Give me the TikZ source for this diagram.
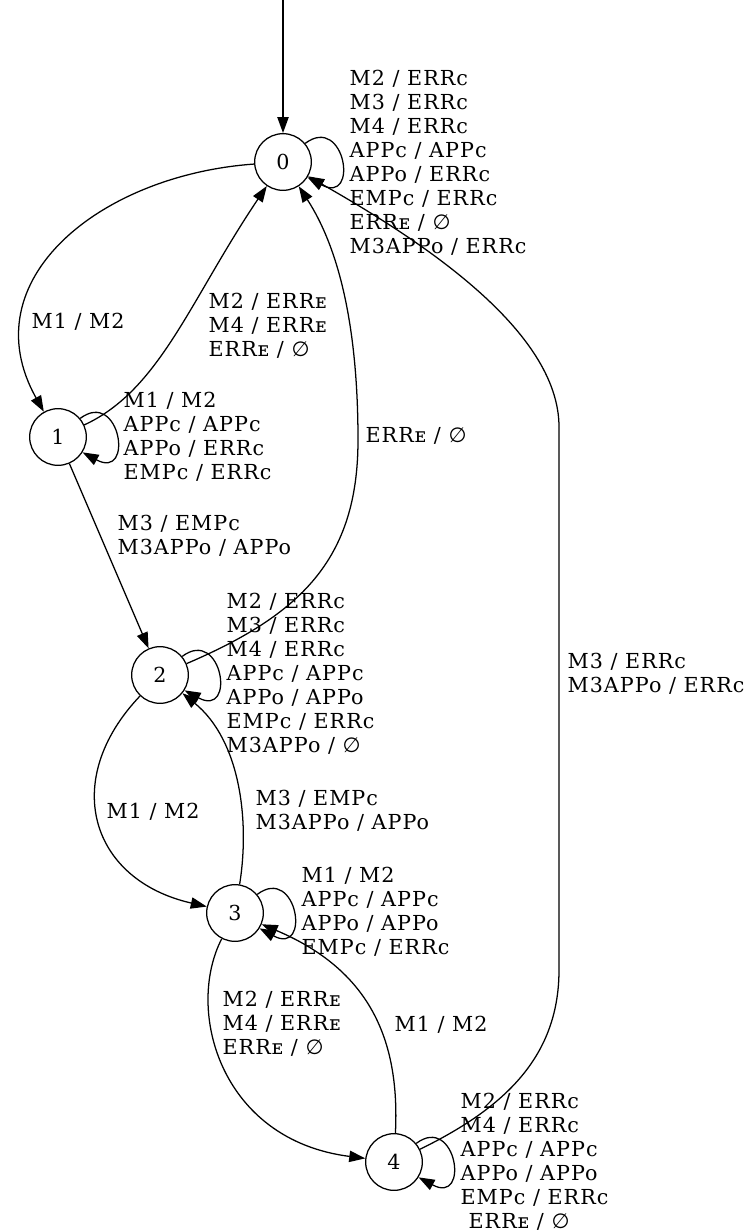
\documentclass[tikz,border=0pt]{standalone}
\usepackage{fontspec}
\setmainfont{DejaVu Serif}[LetterSpace=5]
\newfontfamily\symfont{DejaVu Sans}
\usepackage{tikz}
\usetikzlibrary{arrows.meta}
\newcommand{\nil}{{\symfont ∅}}
\newcommand{\Esc}{ᴇ}

\begin{document}
\begin{tikzpicture}[x=0.75pt, y=-0.75pt, >={Triangle[length=12pt, width=8.5pt]}, line width=0.95pt,
  state/.style={circle, draw, minimum size=42.5pt, inner sep=0pt, font=\fontsize{15.5}{18}\selectfont},
  lbl/.style={anchor=north west, align=left, inner sep=0pt, font=\fontsize{15.5}{18}\selectfont},
  selfloop/.style={to path={(\tikztostart.40) .. controls +(40,-30) and +(52,28) .. (\tikztostart.-32)}}]
            \useasboundingbox (0,0) rectangle (750,1232);

            \node[state] (n0) at (283,162) {0};
            \node[state] (n1) at (58,437) {1};
            \node[state] (n2) at (160,675) {2};
            \node[state] (n3) at (235,913) {3};
            \node[state] (n4) at (394,1162) {4};
            \coordinate (init) at (283,0);

            \node[lbl] (l00) at (349,70) {M2 / ERRc\\M3 / ERRc\\M4 / ERRc\\APPc / APPc\\APPo / ERRc\\EMPc / ERRc\\ERR\Esc{} / \nil\\M3APPo / ERRc};
            \node[lbl] (l01) at (31,313) {M1 / M2};
            \node[lbl] (l10) at (208,293) {M2 / ERR\Esc\\M4 / ERR\Esc\\ERR\Esc{} / \nil};
            \node[lbl] (l11) at (123,392) {M1 / M2\\APPc / APPc\\APPo / ERRc\\EMPc / ERRc};
            \node[lbl] (l12) at (117,515) {M3 / EMPc\\M3APPo / APPo};
            \node[lbl] (l20) at (365,427) {ERR\Esc{} / \nil};
            \node[lbl] (l22) at (226,593) {M2 / ERRc\\M3 / ERRc\\M4 / ERRc\\APPc / APPc\\APPo / APPo\\EMPc / ERRc\\M3APPo / \nil};
            \node[lbl] (l23) at (106,803) {M1 / M2};
            \node[lbl] (l32) at (255,790) {M3 / EMPc\\M3APPo / APPo};
            \node[lbl] (l33) at (301,867) {M1 / M2\\APPc / APPc\\APPo / APPo\\EMPc / ERRc};
            \node[lbl] (l34) at (222,991) {M2 / ERR\Esc\\M4 / ERR\Esc\\ERR\Esc{} / \nil};
            \node[lbl] (l43) at (394,1016) {M1 / M2};
            \node[lbl] (l40) at (567,653) {M3 / ERRc\\M3APPo / ERRc};
            \node[lbl] (l44) at (460,1093) {M2 / ERRc\\M4 / ERRc\\APPc / APPc\\APPo / APPo\\EMPc / ERRc\\\hspace*{6pt}ERR\Esc{} / \nil};

            \draw[->] (init) -- (n0);
            \draw[->] (n0) .. controls (100,175) and (-30,280) .. (n1);
            \draw[->] (n1) .. controls (160,390) and (190,300) .. (n0);
            \draw[->] (n1) -- (n2);
            \draw[->] (n2) .. controls (300,615) and (358,560) .. (358,440)
                           .. controls (358,330) and (340,250) .. (n0);
            \draw[->] (n2) .. controls (60,780) and (90,880) .. (n3);
            \draw[->] (n3) .. controls (250,820) and (240,740) .. (n2);
            \draw[->] (n3) .. controls (185,1010) and (220,1140) .. (n4);
            \draw[->] (n4) .. controls (400,1040) and (370,970) .. (n3);
            \draw[->] (n4) .. controls (500,1110) and (559,1060) .. (559,970) -- (559,427)
                           .. controls (559,330) and (420,240) .. (n0);

            \draw[->] (n0) to[selfloop] (n0);
            \draw[->] (n1) to[selfloop] (n1);
            \draw[->] (n2) to[selfloop] (n2);
            \draw[->] (n3) to[selfloop] (n3);
            \draw[->] (n4) to[selfloop] (n4);
        \end{tikzpicture}
\end{document}
